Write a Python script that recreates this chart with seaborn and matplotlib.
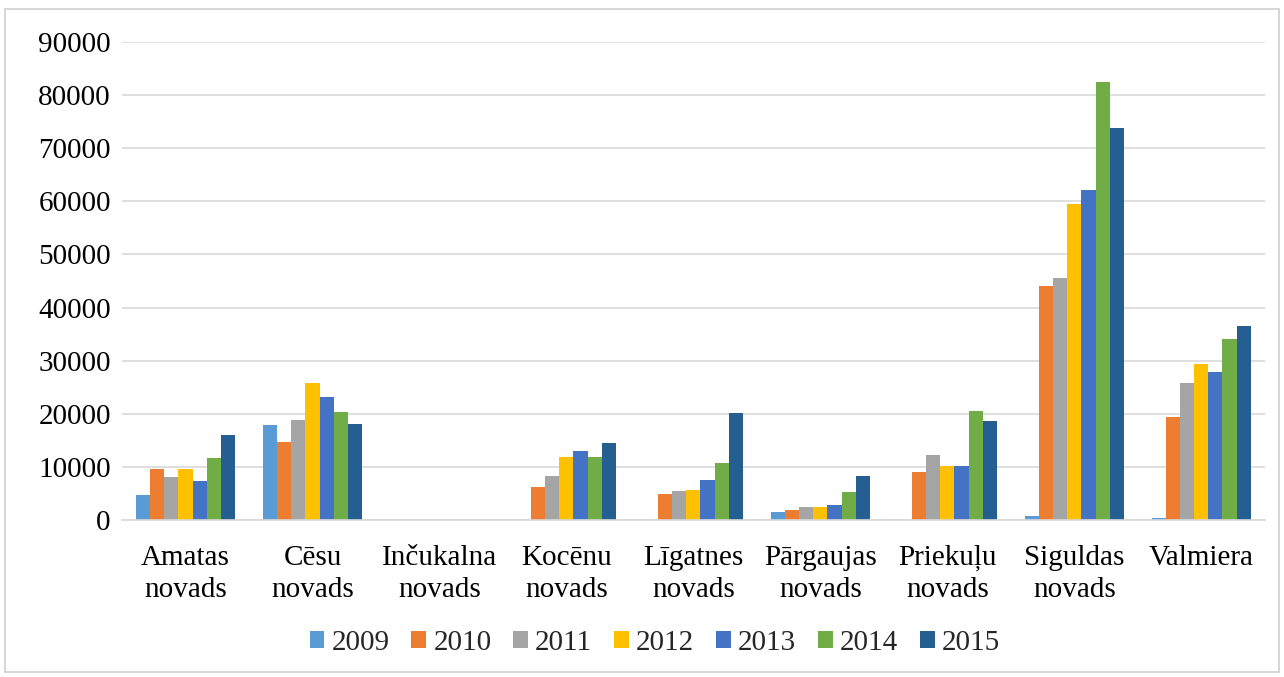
import numpy as np
import pandas as pd
import matplotlib
matplotlib.use("Agg")
import matplotlib.pyplot as plt
import seaborn as sns
from matplotlib.patches import Rectangle

# data
regions = ['Amatas\nnovads', 'Cēsu\nnovads', 'Inčukalna\nnovads', 'Kocēnu\nnovads',
           'Līgatnes\nnovads', 'Pārgaujas\nnovads', 'Priekuļu\nnovads',
           'Siguldas\nnovads', 'Valmiera']
years = ['2009', '2010', '2011', '2012', '2013', '2014', '2015']

v2009 = [4650, 17860, 0, 0, 0, 1450, 0, 810, 380]
v2010 = [9560, 14700, 0, 6230, 4970, 1950, 9120, 43960, 19320]
v2011 = [8110, 18800, 0, 8360, 5400, 2390, 12200, 45600, 25700]
v2012 = [9560, 25800, 0, 11760, 5720, 2390, 10190, 59480, 29330]
v2013 = [7300, 23100, 0, 12960, 7610, 2830, 10190, 62170, 27830]
v2014 = [11570, 20250, 0, 11760, 10750, 5350, 20500, 82430, 34080]
v2015 = [15900, 18000, 0, 14460, 20190, 8360, 18620, 73740, 36520]

colors = ['#5B9BD5', '#ED7D31', '#A5A5A5', '#FFC000', '#4472C4', '#70AD47', '#255E91']

series = [v2009, v2010, v2011, v2012, v2013, v2014, v2015]
rows = []
for y, vals in zip(years, series):
    for r, v in zip(regions, vals):
        rows.append({'region': r, 'year': y, 'value': v})
df = pd.DataFrame(rows)

sns.set_theme(style='white')
plt.rcParams['font.family'] = ['Liberation Serif', 'DejaVu Serif']

fig = plt.figure(figsize=(12.84, 6.77), dpi=100)
ax = fig.add_axes([0.095, 0.232, 0.89, 0.706])

sns.barplot(data=df, x='region', y='value', hue='year', order=regions,
            hue_order=years, palette=colors, width=0.78, gap=0,
            saturation=1, linewidth=0, ax=ax, legend=True)

ax.set_ylim(0, 90000)
ax.set_xlim(-0.5, 8.5)
ax.set_yticks(np.arange(0, 90001, 10000))
ax.yaxis.grid(True, color='#D9D9D9', linewidth=1.2)
ax.set_axisbelow(True)
for s in ['top', 'right', 'left']:
    ax.spines[s].set_visible(False)
ax.spines['bottom'].set_color('#D9D9D9')
ax.spines['bottom'].set_linewidth(1.2)
ax.tick_params(axis='y', length=0, labelsize=21, colors='black', pad=8)
ax.tick_params(axis='x', length=0, labelsize=21, colors='black', pad=18)
ax.set_xlabel('')
ax.set_ylabel('')
for lab in ax.get_xticklabels():
    lab.set_linespacing(1.3)

handles, labels = ax.get_legend_handles_labels()
ax.get_legend().remove()
fig.legend(handles, labels, loc='center', bbox_to_anchor=(0.51, 0.05), ncol=7,
           frameon=False, fontsize=21, handlelength=0.5, handleheight=0.5,
           handletextpad=0.25, columnspacing=0.75)

fig.patches.append(Rectangle((0.004, 0.008), 0.992, 0.978, transform=fig.transFigure,
                             fill=False, edgecolor='#D0D0D0', linewidth=1.2))

fig.savefig('out.png', dpi=100)
